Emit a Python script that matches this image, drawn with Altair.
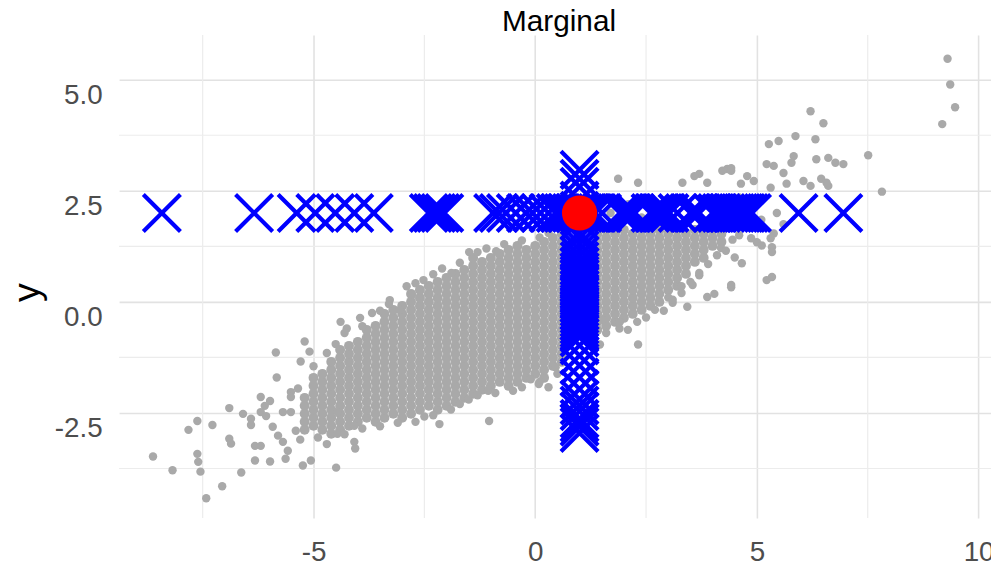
import altair as alt
import pandas as pd

FONT = "Liberation Sans"
X_DOMAIN = [-9.385, 10.28]
Y_DOMAIN = [-4.866, 6.004]

# ---- dense core of the grey cloud, read column by column (x, list of y) ----
gray_columns = [
    (-5.2, [-2.88, -2.7, -2.52, -2.34, -2.16]),
    (-5.0, [-2.79, -2.61, -2.43, -2.25, -2.07, -1.89, -1.71]),
    (-4.8, [-2.88, -2.7, -2.52, -2.34, -2.16, -1.98, -1.8, -1.62]),
    (-4.6, [-2.97, -2.79, -2.61, -2.43, -2.25, -2.07, -1.89, -1.71, -1.53, -1.35]),
    (-4.4, [-2.88, -2.7, -2.52, -2.34, -2.16, -1.98, -1.8, -1.62, -1.44, -1.26, -1.08]),
    (-4.2, [-2.79, -2.61, -2.43, -2.25, -2.07, -1.89, -1.71, -1.53, -1.35, -1.17, -0.99]),
    (-4.0, [-2.7, -2.52, -2.34, -2.16, -1.98, -1.8, -1.62, -1.44, -1.26, -1.08, -0.9]),
    (-3.8, [-2.61, -2.43, -2.25, -2.07, -1.89, -1.71, -1.53, -1.35, -1.17, -0.99, -0.81, -0.63]),
    (-3.6, [-2.7, -2.52, -2.34, -2.16, -1.98, -1.8, -1.62, -1.44, -1.26, -1.08, -0.9, -0.72, -0.54]),
    (-3.4, [-2.61, -2.43, -2.25, -2.07, -1.89, -1.71, -1.53, -1.35, -1.17, -0.99, -0.81, -0.63, -0.45, -0.27]),
    (-3.2, [-2.52, -2.34, -2.16, -1.98, -1.8, -1.62, -1.44, -1.26, -1.08, -0.9, -0.72, -0.54, -0.36, -0.18]),
    (-3.0, [-2.61, -2.43, -2.25, -2.07, -1.89, -1.71, -1.53, -1.35, -1.17, -0.99, -0.81, -0.63, -0.45, -0.27, -0.09]),
    (-2.8, [-2.52, -2.34, -2.16, -1.98, -1.8, -1.62, -1.44, -1.26, -1.08, -0.9, -0.72, -0.54, -0.36, -0.18, 0.0, 0.18]),
    (-2.6, [-2.43, -2.25, -2.07, -1.89, -1.71, -1.53, -1.35, -1.17, -0.99, -0.81, -0.63, -0.45, -0.27, -0.09, 0.09, 0.27]),
    (-2.4, [-2.34, -2.16, -1.98, -1.8, -1.62, -1.44, -1.26, -1.08, -0.9, -0.72, -0.54, -0.36, -0.18, 0.0, 0.18, 0.36]),
    (-2.2, [-2.43, -2.25, -2.07, -1.89, -1.71, -1.53, -1.35, -1.17, -0.99, -0.81, -0.63, -0.45, -0.27, -0.09, 0.09, 0.27, 0.45]),
    (-2.0, [-2.34, -2.16, -1.98, -1.8, -1.62, -1.44, -1.26, -1.08, -0.9, -0.72, -0.54, -0.36, -0.18, 0.0, 0.18, 0.36, 0.54]),
    (-1.8, [-2.25, -2.07, -1.89, -1.71, -1.53, -1.35, -1.17, -0.99, -0.81, -0.63, -0.45, -0.27, -0.09, 0.09, 0.27, 0.45, 0.63]),
    (-1.6, [-2.16, -1.98, -1.8, -1.62, -1.44, -1.26, -1.08, -0.9, -0.72, -0.54, -0.36, -0.18, 0.0, 0.18, 0.36, 0.54, 0.72]),
    (-1.4, [-2.07, -1.89, -1.71, -1.53, -1.35, -1.17, -0.99, -0.81, -0.63, -0.45, -0.27, -0.09, 0.09, 0.27, 0.45, 0.63, 0.81, 0.99]),
    (-1.2, [-1.98, -1.8, -1.62, -1.44, -1.26, -1.08, -0.9, -0.72, -0.54, -0.36, -0.18, 0.0, 0.18, 0.36, 0.54, 0.72, 0.9]),
    (-1.0, [-1.89, -1.71, -1.53, -1.35, -1.17, -0.99, -0.81, -0.63, -0.45, -0.27, -0.09, 0.09, 0.27, 0.45, 0.63, 0.81, 0.99]),
    (-0.8, [-1.8, -1.62, -1.44, -1.26, -1.08, -0.9, -0.72, -0.54, -0.36, -0.18, 0.0, 0.18, 0.36, 0.54, 0.72, 0.9, 1.08]),
    (-0.6, [-1.89, -1.71, -1.53, -1.35, -1.17, -0.99, -0.81, -0.63, -0.45, -0.27, -0.09, 0.09, 0.27, 0.45, 0.63, 0.81, 0.99, 1.17]),
    (-0.4, [-1.8, -1.62, -1.44, -1.26, -1.08, -0.9, -0.72, -0.54, -0.36, -0.18, 0.0, 0.18, 0.36, 0.54, 0.72, 0.9, 1.08, 1.26]),
    (-0.2, [-1.71, -1.53, -1.35, -1.17, -0.99, -0.81, -0.63, -0.45, -0.27, -0.09, 0.09, 0.27, 0.45, 0.63, 0.81, 0.99, 1.17]),
    (0.0, [-1.62, -1.44, -1.26, -1.08, -0.9, -0.72, -0.54, -0.36, -0.18, 0.0, 0.18, 0.36, 0.54, 0.72, 0.9, 1.08, 1.26]),
    (0.2, [-1.71, -1.53, -1.35, -1.17, -0.99, -0.81, -0.63, -0.45, -0.27, -0.09, 0.09, 0.27, 0.45, 0.63, 0.81, 0.99, 1.17, 1.35]),
    (0.4, [-1.44, -1.26, -1.08, -0.9, -0.72, -0.54, -0.36, -0.18, 0.0, 0.18, 0.36, 0.54, 0.72, 0.9, 1.08, 1.26, 1.44]),
    (0.6, [-1.35, -1.17, -0.99, -0.81, -0.63, -0.45, -0.27, -0.09, 0.09, 0.27, 0.45, 0.63, 0.81, 0.99, 1.17, 1.35, 1.53]),
    (1.4, [-0.63, -0.45, -0.27, -0.09, 0.09, 0.27, 0.45, 0.63, 0.81, 0.99, 1.17, 1.35, 1.53]),
    (1.6, [-0.54, -0.36, -0.18, 0.0, 0.18, 0.36, 0.54, 0.72, 0.9, 1.08, 1.26, 1.44, 1.62]),
    (1.8, [-0.45, -0.27, -0.09, 0.09, 0.27, 0.45, 0.63, 0.81, 0.99, 1.17, 1.35, 1.53]),
    (2.0, [-0.36, -0.18, 0.0, 0.18, 0.36, 0.54, 0.72, 0.9, 1.08, 1.26, 1.44, 1.62]),
    (2.2, [-0.27, -0.09, 0.09, 0.27, 0.45, 0.63, 0.81, 0.99, 1.17, 1.35, 1.53]),
    (2.4, [-0.18, 0.0, 0.18, 0.36, 0.54, 0.72, 0.9, 1.08, 1.26, 1.44, 1.62]),
    (2.6, [-0.09, 0.09, 0.27, 0.45, 0.63, 0.81, 0.99, 1.17, 1.35, 1.53]),
    (2.8, [0.0, 0.18, 0.36, 0.54, 0.72, 0.9, 1.08, 1.26, 1.44, 1.62]),
    (3.0, [0.27, 0.45, 0.63, 0.81, 0.99, 1.17, 1.35, 1.53]),
    (3.2, [0.36, 0.54, 0.72, 0.9, 1.08, 1.26, 1.44, 1.62]),
    (3.4, [0.63, 0.81, 0.99, 1.17, 1.35, 1.53]),
    (3.6, [0.9, 1.08, 1.26, 1.44, 1.62]),
    (3.8, [0.99, 1.17, 1.35, 1.53]),
    (4.0, [1.26, 1.44, 1.62]),
    (4.2, [1.35, 1.53]),
]

# ---- scattered grey points around the core ----
gray_extra_x = [
    -8.62, -8.18, -7.62, -7.82, -7.28, -7.62, -7.6, -7.55, -7.42, -7.06, -6.63, -6.9, -6.9, -6.86,
    -6.59, -6.41, -6.41, -6.19, -5.98, -6.1, -6.19, -6.07, -6.32, -6.19, -6.32, -5.98, -5.85, -5.83,
    -5.92, -5.8, -5.69, -5.58, -5.63, -5.69, -5.51, -5.51, -5.51, -5.24, -5.06, -4.49, -5.2, -5.09,
    -5.29, -4.39, -3.95, -3.68, -3.28, -3.05, -2.78, -4.46, -4.46, -4.08, -4.08, -4.06, -2.16, -1.06,
    -1.04, -2.52, -1.89, -1.49, -0.88, -0.1, 0.08, 0.3, 0.46, -5.4, -5.35, -5.3, -4.7, -4.25,
    1.51, 1.91, 2.09, 2.32, 1.46, 2.7, 3.1, 3.43, 3.55, 3.88, 4.04, 4.42, 5.22, 5.34, 4.42, 4.66,
    4.19, 5.0, 5.34, 5.38, 5.31, 5.34, 4.87, 5.11, 3.0, 3.3, 3.7, 4.5,
    9.3, 9.36, 9.47, 9.18, 6.21, 6.5, 5.27, 5.49, 5.87, 6.32, 5.22, 5.38, 5.6, 5.83, 5.78, 6.34,
    6.61, 6.77, 6.95, 6.45, 6.61, 6.05, 6.21, 4.33, 4.42, 3.7, 3.32, 2.32, 1.87, 4.78, 4.93, 4.64,
    5.31, 5.67, 7.51, 7.82, 6.57, 3.59, 3.88, 4.22, 4.42,
    5.45, 5.1, 4.8, 5.6, 4.5, 4.3, 4.6, 3.9, 3.5, 3.2, 2.9, 2.6, 2.4, 2.1, 1.7, 1.6,
    # ragged upper-left edge of the core
    -5.0, -4.7, -4.5, -4.3, -3.9, -3.5, -3.3, -2.9, -2.7, -2.3, -2.1, -1.7, -1.3, -1.1, -0.7,
    -0.3, 0.1, 0.3,
    # ragged lower-right edge of the core
    -4.9, -4.3, -3.9, -3.5, -3.1, -2.7, -2.5, -2.3, -1.9, -1.7, -1.5, -1.3, -0.9, -0.5, -0.3,
    0.1, 0.5, 1.6, 1.9, 2.3, 2.5, 2.9, 3.1, 3.3, 3.5, 3.7, 3.9, 4.1, 4.3, 4.45, 4.6,
]
gray_extra_y = [
    -3.48, -3.79, -2.68, -2.88, -2.77, -3.42, -3.6, -3.82, -4.42, -4.15, -3.84, -2.39, -3.08, -3.19,
    -2.52, -2.63, -2.77, -2.14, -2.23, -2.34, -2.48, -2.57, -3.24, -3.24, -3.57, -3.59, -1.14, -1.7,
    -2.81, -3.01, -3.15, -3.35, -3.53, -2.48, -2.48, -2.03, -2.14, -3.68, -3.57, -3.73, -0.89, -1.12,
    -1.34, -0.45, -0.36, -0.25, 0.04, -0.18, 0.16, -2.48, -2.97, -2.79, -3.15, -3.3, -2.75, -2.0,
    -2.68, 0.49, 0.65, 1.12, 1.14, -1.74, -1.85, -1.92, -1.47, -2.9, -1.95, -3.1, -3.2, -0.6,
    -0.4, -0.45, -0.63, -0.96, -0.96, -0.18, -0.02, -0.11, 0.38, 0.11, 0.18, 0.33, 0.49, 0.56, 0.38, 0.87,
    1.21, 1.34, 1.23, 1.54, 1.43, 1.12, 1.43, 1.27, 0.1, 0.35, 0.6, 1.0,
    5.47, 4.89, 4.38, 4.0, 4.29, 4.02, 3.55, 3.62, 3.73, 3.66, 3.1, 3.06, 2.9, 3.28, 3.13, 3.21,
    3.24, 3.13, 3.1, 2.77, 2.61, 2.72, 2.61, 2.99, 2.95, 2.88, 2.68, 2.68, 2.77, 2.83, 2.72, 2.66,
    2.57, 2.66, 3.3, 2.48, 2.68, 2.83, 2.68, 2.95, 3.01,
    2.0, 1.85, 2.1, 1.75, 1.8, 2.2, 2.35, 2.2, 1.9, 2.3, 2.0, 2.3, 1.9, 2.2, 2.0, 2.35,
    -1.45, -1.15, -0.95, -0.7, -0.55, -0.2, -0.05, 0.35, 0.42, 0.62, 0.75, 0.88, 1.12, 1.2, 1.3,
    1.38, 1.45, 1.55,
    -3.05, -2.98, -2.85, -2.8, -2.72, -2.7, -2.58, -2.55, -2.42, -2.3, -2.2, -2.1, -2.05, -2.0, -1.92,
    -1.8, -1.62, -0.7, -0.6, -0.45, -0.35, -0.2, 0.05, 0.2, 0.45, 0.65, 0.85, 1.05, 1.15, 1.4, 1.5,
]

# ---- blue crosses: samples along y = 2 and along x = 1 ----
row_y_value = 2.0
row_x = [
    -8.42, -6.34, -5.38, -4.96, -4.51, -4.08, -3.64, -2.4, -2.31, -2.23, -2.14, -2.05,
    -0.95, -0.82, -0.66, -0.44, -0.21, -0.06, 0.12, 0.3, 0.46, 0.55, 0.64, 0.73, 0.82, 0.91,
    1.0, 1.08, 1.17, 1.26, 1.35, 1.51, 1.91, 2.0, 2.07, 2.16, 2.25, 2.6, 2.7, 2.79, 2.88,
    2.95, 3.03, 3.21, 3.5, 3.59, 3.7, 4.0, 4.1, 4.2, 4.3, 4.38, 4.45, 4.51, 4.58, 4.64,
    4.7, 4.75, 4.82, 4.89, 5.94, 6.95,
]
col_x_value = 1.0
col_y = [
    2.97, 2.77, 2.59, 2.28, 2.05, 1.83, 1.56, 1.44, 1.3, 1.17, 1.04, 0.92, 0.8, 0.68, 0.6,
    0.52, 0.44, 0.36, 0.28, 0.2, 0.12, 0.04, -0.04, -0.12, -0.2, -0.28, -0.36, -0.44, -0.52,
    -0.6, -0.7, -0.8, -0.98, -1.21, -1.43, -1.7, -1.96, -2.19, -2.33, -2.46, -2.63, -2.72,
    -2.81, -2.95,
]

# ---- red point ----
red_x = [1.0]
red_y = [2.0]

# ---- ticks / grid ----
x_ticks = [-5, 0, 5, 10]
y_ticks = [-2.5, 0.0, 2.5, 5.0]
x_minor = [-7.5, -2.5, 2.5, 7.5]
y_minor = [-3.75, -1.25, 1.25, 3.75]

# ---------------------------------------------------------------------------
cx_list, cy_list = [], []
for cx, ys in gray_columns:
    for v in ys:
        cx_list.append(cx)
        cy_list.append(v)
core_df = pd.DataFrame({"x": cx_list, "y": cy_list})
extra_df = pd.DataFrame({"x": gray_extra_x, "y": gray_extra_y})
row_df = pd.DataFrame({"x": row_x, "y": [row_y_value] * len(row_x)})
col_df = pd.DataFrame({"x": [col_x_value] * len(col_y), "y": col_y})
red_df = pd.DataFrame({"x": red_x, "y": red_y})
xminor_df = pd.DataFrame({"x": x_minor})
yminor_df = pd.DataFrame({"y": y_minor})

xs = alt.Scale(domain=X_DOMAIN, nice=False, zero=False)
ys_ = alt.Scale(domain=Y_DOMAIN, nice=False, zero=False)

CROSS = "M-1,-1L1,1M-1,1L1,-1"

x_axis = alt.Axis(
    values=x_ticks, title=None, grid=True, gridColor="#e2e2e2", gridWidth=1.6,
    domain=False, ticks=False, labelFont=FONT, labelFontSize=28, labelColor="#4d4d4d",
    labelPadding=21, labelFlush=False, labelOverlap=False,
    labelExpr="(datum.value < 0 ? '-' : '') + format(abs(datum.value), 'd')",
)
y_axis = alt.Axis(
    values=y_ticks, title="y", grid=True, gridColor="#e2e2e2", gridWidth=1.6,
    domain=False, ticks=False, labelFont=FONT, labelFontSize=28, labelColor="#4d4d4d",
    labelPadding=17, labelOffset=16, labelFlush=False, labelOverlap=False,
    labelExpr="(datum.value < 0 ? '-' : '') + format(abs(datum.value), '.1f')",
    titleFont=FONT, titleFontSize=38, titleFontWeight="normal", titleColor="#000000",
    titleAngle=270, titleX=-92, titleY=259, titleAlign="center", titleBaseline="middle",
)

X = alt.X("x:Q", scale=xs, axis=x_axis, title=None)
Y = alt.Y("y:Q", scale=ys_, axis=y_axis, title="y")

minor_v = alt.Chart(xminor_df).mark_rule(color="#ececec", strokeWidth=1.2).encode(x=X)
minor_h = alt.Chart(yminor_df).mark_rule(color="#ececec", strokeWidth=1.2).encode(y=Y)
core = alt.Chart(core_df).mark_circle(color="#a9a9a9", opacity=1, size=100, clip=True).encode(x=X, y=Y)
extra = alt.Chart(extra_df).mark_circle(color="#a9a9a9", opacity=1, size=72, clip=True).encode(x=X, y=Y)
row = alt.Chart(row_df).mark_point(
    shape=CROSS, filled=False, color="#0000ff", strokeWidth=4.2, size=1400, opacity=1
).encode(x=X, y=Y)
col = alt.Chart(col_df).mark_point(
    shape=CROSS, filled=False, color="#0000ff", strokeWidth=4.2, size=1400, opacity=1
).encode(x=X, y=Y)
red = alt.Chart(red_df).mark_circle(color="#ff0000", opacity=1, size=1260).encode(x=X, y=Y)

chart = (
    alt.layer(minor_v, minor_h, core, extra, row, col, red)
    .properties(
        width=879,
        height=487,
        autosize=alt.AutoSizeParams(type="none"),
        padding={"left": 112, "top": 25, "right": 0, "bottom": 47},
        title=alt.TitleParams(
            "Marginal", font=FONT, fontSize=30, fontWeight="normal", color="#000000",
            anchor="middle", baseline="alphabetic", offset=-27, dx=4,
        ),
        background="white",
    )
    .configure_view(stroke=None)
)

chart.save("out.html", embed_options={"renderer": "svg", "actions": False})
